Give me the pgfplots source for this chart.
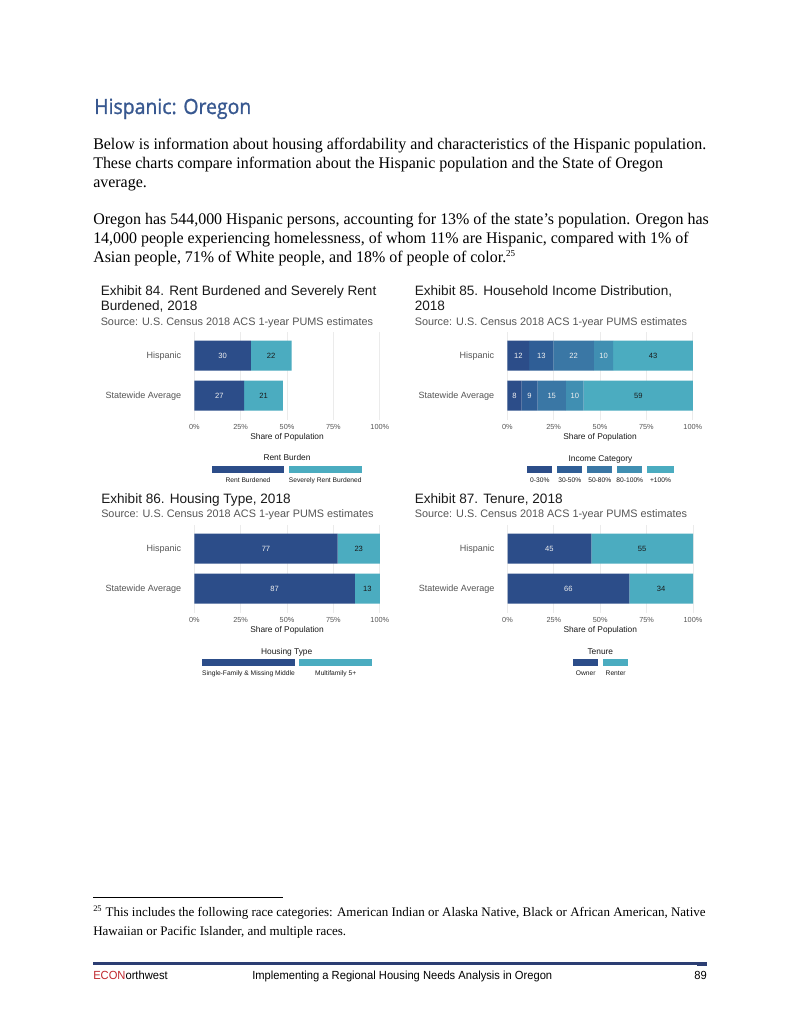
\documentclass[border=0pt]{standalone}
\usepackage{pgfplots}
\pgfplotsset{compat=1.18}
\usepackage{pgfplotstable}
\usepackage{fontspec}
\usepackage{graphicx}
\setmainfont{Liberation Serif}
\newfontfamily\sans{Liberation Sans}
\newfontfamily\headfont{Open Sans}[FakeBold=1.2]
\definecolor{cdark}{HTML}{2C4D89}
\definecolor{cteal}{HTML}{4BACC0}
\definecolor{ci2}{HTML}{2F5E96}
\definecolor{ci3}{HTML}{3A77A5}
\definecolor{ci4}{HTML}{408FB2}
\definecolor{headblue}{HTML}{385890}
\definecolor{tgray}{HTML}{555555}
\definecolor{gridc}{HTML}{EBEBEB}
\definecolor{econred}{HTML}{C0272D}
\definecolor{rulec}{HTML}{2C3E73}
\definecolor{lblw}{HTML}{F0F0F0}
\definecolor{lblk}{HTML}{1A1A1A}

% segment values
\pgfplotstableread{
y a b
2 30.5 21.9
1 26.9 20.9
}\rentdata
\pgfplotstableread{
y c1 c2 c3 c4 c5
2 11.8 13.1 21.8 10.4 42.9
1 7.7 8.6 15.3 9.6 58.8
}\incdata
\pgfplotstableread{
y a b
2 77.3 22.7
1 86.5 13.5
}\housedata
\pgfplotstableread{
y a b
2 45.2 54.8
1 65.7 34.3
}\tenuredata
% label positions (segment mid-points) and printed values
\pgfplotstableread{
y m lab
2 15.25 30
1 13.45 27
}\rentW
\pgfplotstableread{
y m lab
2 41.45 22
1 37.35 21
}\rentK
\pgfplotstableread{
y m lab
2 5.9 12
2 18.35 13
2 35.8 22
2 51.9 10
1 3.85 8
1 12.0 9
1 23.95 15
1 36.4 10
}\incW
\pgfplotstableread{
y m lab
2 78.55 43
1 70.6 59
}\incK
\pgfplotstableread{
y m lab
2 38.65 77
1 43.25 87
}\houseW
\pgfplotstableread{
y m lab
2 88.65 23
1 93.25 13
}\houseK
\pgfplotstableread{
y m lab
2 22.6 45
1 32.85 66
}\tenW
\pgfplotstableread{
y m lab
2 72.6 55
1 82.85 34
}\tenK

\pgfplotsset{
 geom/.style={scale only axis, width=141.9bp, height=67.32bp,
  xmin=0, xmax=100, ymin=0.4, ymax=2.6, clip=false},
 hbar/.style={geom,
  xbar stacked, bar width=22.95bp,
  ytick={1,2}, yticklabels={Statewide Average,Hispanic},
  xtick={0,25,50,75,100}, xticklabels={0\%,25\%,50\%,75\%,100\%},
  axis line style={draw=none}, major tick length=0pt,
  xmajorgrids, grid style={draw=gridc, line width=0.6bp},
  xticklabel style={font=\sans\fontsize{5.6bp}{6bp}\selectfont, text=tgray, anchor=base, inner sep=0pt, yshift=-7.6bp},
  yticklabel style={font=\sans\fontsize{6.9bp}{8bp}\selectfont, text=tgray, anchor=base east, inner sep=0pt, xshift=-9.8bp, yshift=-2.5bp},
  xlabel={Share of Population},
  xlabel style={font=\sans\fontsize{6.4bp}{7bp}\selectfont, text=lblk, at={(axis description cs:0.5,0)}, anchor=base, inner sep=0pt, yshift=-15bp},
 },
 labax/.style={geom, hide axis},
 labs/.style={only marks, mark=none, nodes near coords, point meta=explicit symbolic,
   every node near coord/.append style={anchor=center, font=\sans\fontsize{5.8bp}{6bp}\selectfont, text=#1, inner sep=0pt}},
}
\newcommand\seg[3]{%
 \addplot[fill=#3, draw=none] table[x=#2, y=y] {#1};
}
\newcommand\labels[2]{%
 \addplot[labs=#2] table[x=m, y=y, meta=lab] {#1};
}

\newcommand\bodyfnt{\fontsize{12.4bp}{14bp}\selectfont}
\newcommand\footfnt{\fontsize{10bp}{12bp}\selectfont}
\newcommand\titfnt{\sans\fontsize{10.4bp}{12bp}\selectfont}
\newcommand\srcfnt{\sans\fontsize{8.3bp}{10bp}\selectfont}
\newcommand\legt{\sans\fontsize{6.4bp}{7bp}\selectfont}
\newcommand\legl{\sans\fontsize{5.1bp}{6bp}\selectfont}
\newcommand\pgfnt{\sans\fontsize{9bp}{10bp}\selectfont}
\newlength\tmpw

\begin{document}
\settowidth\tmpw{\bodyfnt Below is information about housing affordability and characteristics of the Hispanic population.}%
\pgfmathsetmacro\bsx{613*0.765*1.00375/\tmpw}%
\settowidth\tmpw{\footfnt\textsuperscript{25} This includes the following race categories: American Indian or Alaska Native, Black or African American, Native}%
\pgfmathsetmacro\fsx{613*0.765*1.00375/\tmpw}%
\settowidth\tmpw{\pgfnt Implementing a Regional Housing Needs Analysis in Oregon}%
\pgfmathsetmacro\psx{300*0.765*1.00375/\tmpw}%
\begin{tikzpicture}[x=0.765bp, y=-0.765bp]
\fill[white] (0,0) rectangle (800,1035);
\useasboundingbox (0,0) rectangle (800,1035);

% heading
\node[anchor=base west, inner sep=0, text=headblue] at (94,114) {\resizebox{120.1bp}{\height}{\headfont\fontsize{16bp}{18bp}\selectfont Hispanic: Oregon}};

% body
\begin{scope}[every node/.style={anchor=base west, inner sep=0}]
\node at (93,150) {\bodyfnt\scalebox{\bsx}[1]{Below is information about housing affordability and characteristics of the Hispanic population.}};
\node at (93,168.7) {\bodyfnt\scalebox{\bsx}[1]{These charts compare information about the Hispanic population and the State of Oregon}};
\node at (93,187.4) {\bodyfnt\scalebox{\bsx}[1]{average.}};
\node at (93,224.8) {\bodyfnt\scalebox{\bsx}[1]{Oregon has 544,000 Hispanic persons, accounting for 13\% of the state’s population. Oregon has}};
\node at (93,243.5) {\bodyfnt\scalebox{\bsx}[1]{14,000 people experiencing homelessness, of whom 11\% are Hispanic, compared with 1\% of}};
\node at (93,262.2) {\bodyfnt\scalebox{\bsx}[1]{Asian people, 71\% of White people, and 18\% of people of color.\textsuperscript{\fontsize{7bp}{8bp}\selectfont 25}}};

% chart titles
\node[text=lblk] at (100.5,295) {\titfnt Exhibit 84. Rent Burdened and Severely Rent};
\node[text=lblk] at (100.5,310) {\titfnt Burdened, 2018};
\node[text=tgray] at (100.5,325) {\srcfnt Source: U.S. Census 2018 ACS 1-year PUMS estimates};
\node[text=lblk] at (414.5,295) {\titfnt Exhibit 85. Household Income Distribution,};
\node[text=lblk] at (414.5,310) {\titfnt 2018};
\node[text=tgray] at (414.5,325) {\srcfnt Source: U.S. Census 2018 ACS 1-year PUMS estimates};
\node[text=lblk] at (101,503.3) {\titfnt Exhibit 86. Housing Type, 2018};
\node[text=tgray] at (101,517.5) {\srcfnt Source: U.S. Census 2018 ACS 1-year PUMS estimates};
\node[text=lblk] at (414.5,503.3) {\titfnt Exhibit 87. Tenure, 2018};
\node[text=tgray] at (414.5,517.5) {\srcfnt Source: U.S. Census 2018 ACS 1-year PUMS estimates};

% footnote
\node at (93,916.5) {\footfnt\scalebox{\fsx}[1]{\textsuperscript{\fontsize{6.5bp}{7bp}\selectfont 25} This includes the following race categories: American Indian or Alaska Native, Black or African American, Native}};
\node at (93,935.5) {\footfnt\scalebox{\fsx}[1]{Hawaiian or Pacific Islander, and multiple races.}};
% footer
\node at (93,979) {\pgfnt\scalebox{\psx}[1]{\textcolor{econred}{ECON}orthwest}};
\node at (252,979) {\pgfnt\scalebox{\psx}[1]{Implementing a Regional Housing Needs Analysis in Oregon}};
\end{scope}
\node[anchor=base east, inner sep=0] at (707,979) {\pgfnt\scalebox{\psx}[1]{89}};
\draw[line width=0.6bp] (93,897) -- (283,897);
\draw[rulec, line width=1.6bp] (93,963.5) -- (707,963.5);
\fill[rulec] (697,961.8) rectangle (707,965.6);

\coordinate (P84) at (194.3,331.5);
\coordinate (P85) at (507.3,331.5);
\coordinate (P86) at (194.3,524.5);
\coordinate (P87) at (507.5,524.5);

\begin{axis}[hbar, at={(P84)}, anchor=north west]
\seg{\rentdata}{a}{cdark}
\seg{\rentdata}{b}{cteal}
\end{axis}
\begin{axis}[labax, at={(P84)}, anchor=north west]
\labels{\rentW}{lblw}
\labels{\rentK}{lblk}
\end{axis}

\begin{axis}[hbar, at={(P85)}, anchor=north west]
\seg{\incdata}{c1}{cdark}
\seg{\incdata}{c2}{ci2}
\seg{\incdata}{c3}{ci3}
\seg{\incdata}{c4}{ci4}
\seg{\incdata}{c5}{cteal}
\end{axis}
\begin{axis}[labax, at={(P85)}, anchor=north west]
\labels{\incW}{lblw}
\labels{\incK}{lblk}
\end{axis}

\begin{axis}[hbar, at={(P86)}, anchor=north west]
\seg{\housedata}{a}{cdark}
\seg{\housedata}{b}{cteal}
\end{axis}
\begin{axis}[labax, at={(P86)}, anchor=north west]
\labels{\houseW}{lblw}
\labels{\houseK}{lblk}
\end{axis}

\begin{axis}[hbar, at={(P87)}, anchor=north west]
\seg{\tenuredata}{a}{cdark}
\seg{\tenuredata}{b}{cteal}
\end{axis}
\begin{axis}[labax, at={(P87)}, anchor=north west]
\labels{\tenW}{lblw}
\labels{\tenK}{lblk}
\end{axis}

% legends
\begin{scope}[every node/.style={anchor=base, inner sep=0}]
\node[text=lblk] at (287,460.7) {\legt Rent Burden};
\fill[cdark] (212,465.7) rectangle (284,472.7);
\fill[cteal] (288.7,465.7) rectangle (362,472.7);
\node[text=lblk] at (248,482.4) {\legl Rent Burdened};
\node[text=lblk] at (325.3,482.4) {\legl Severely Rent Burdened};

\node[text=lblk] at (600.5,461) {\legt Income Category};
\fill[cdark] (527.3,465.7) rectangle (552.3,472.7);
\fill[ci2] (557.3,465.7) rectangle (582.3,472.7);
\fill[ci3] (587.3,465.7) rectangle (612.3,472.7);
\fill[ci4] (617.3,465.7) rectangle (642.3,472.7);
\fill[cteal] (647.3,465.7) rectangle (673.7,472.7);
\node[text=lblk] at (539.8,482.4) {\legl 0-30\%};
\node[text=lblk] at (569.8,482.4) {\legl 30-50\%};
\node[text=lblk] at (599.8,482.4) {\legl 50-80\%};
\node[text=lblk] at (629.8,482.4) {\legl 80-100\%};
\node[text=lblk] at (660.5,482.4) {\legl +100\%};

\node[text=lblk] at (286.7,654) {\legt Housing Type};
\fill[cdark] (202,659) rectangle (295,665.7);
\fill[cteal] (299.3,659) rectangle (372,665.7);
\node[text=lblk] at (248.5,675.7) {\legl Single-Family \& Missing Middle};
\node[text=lblk] at (335.7,675.7) {\legl Multifamily 5+};

\node[text=lblk] at (600.3,654) {\legt Tenure};
\fill[cdark] (572.7,659) rectangle (598.3,665.7);
\fill[cteal] (603,659) rectangle (627.7,665.7);
\node[text=lblk] at (585.7,675.7) {\legl Owner};
\node[text=lblk] at (615.7,675.7) {\legl Renter};
\end{scope}
\end{tikzpicture}
\end{document}
